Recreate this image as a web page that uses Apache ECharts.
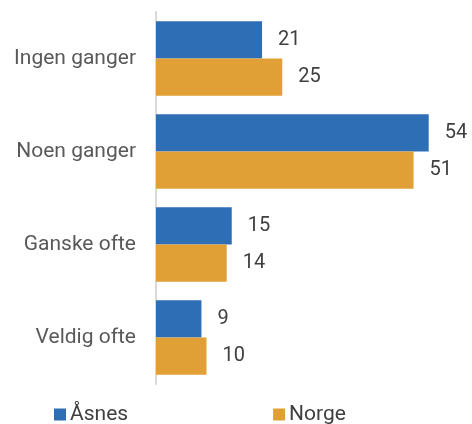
<!DOCTYPE html>
<html>
<head>
<meta charset="utf-8">
<script src="https://cdn.jsdelivr.net/npm/echarts@6/dist/echarts.min.js"></script>
<style>
  html, body { margin: 0; padding: 0; background: #ffffff; }
  #chart { width: 472px; height: 424px; }
</style>
</head>
<body>
<div id="chart"></div>
<script>
// Answer categories, top to bottom
const categories = ['Ingen ganger', 'Noen ganger', 'Ganske ofte', 'Veldig ofte'];
// Percent per category
const asnesValues = [21, 54, 15, 9];
const norgeValues = [25, 51, 14, 10];
const seriesNames = ['Åsnes', 'Norge'];

const FONT = 'Roboto, "Noto Sans", sans-serif';

const chart = echarts.init(document.getElementById('chart'), null, { renderer: 'canvas' });

const valueLabel = {
  show: true,
  position: 'right',
  distance: 16,
  fontFamily: FONT,
  fontSize: 20,
  color: '#404040'
};

chart.setOption({
  animation: false,
  grid: { left: 156, right: 13, top: 12, bottom: 40, containLabel: false },
  legend: {
    data: seriesNames,
    left: 49,
    bottom: -6,
    itemWidth: 12,
    itemHeight: 12,
    itemGap: 145,
    icon: 'rect',
    textStyle: { fontFamily: FONT, fontSize: 21, color: '#404040', padding: [0, 0, 0, -1] }
  },
  xAxis: {
    type: 'value',
    min: 0,
    max: 60,
    show: false,
    splitLine: { show: false }
  },
  yAxis: {
    type: 'category',
    data: categories,
    inverse: true,
    axisLine: { show: true, lineStyle: { color: '#d9d9d9', width: 2 } },
    axisTick: { show: false },
    axisLabel: {
      margin: 20,
      fontFamily: FONT,
      fontSize: 21,
      color: '#595959'
    }
  },
  series: [
    {
      name: seriesNames[0],
      type: 'bar',
      data: asnesValues,
      barGap: '0%',
      barCategoryGap: '20%',
      itemStyle: { color: '#2D6EB5' },
      label: valueLabel
    },
    {
      name: seriesNames[1],
      type: 'bar',
      data: norgeValues,
      barGap: '0%',
      barCategoryGap: '20%',
      itemStyle: { color: '#E0A036' },
      label: valueLabel
    }
  ]
});
</script>
</body>
</html>
